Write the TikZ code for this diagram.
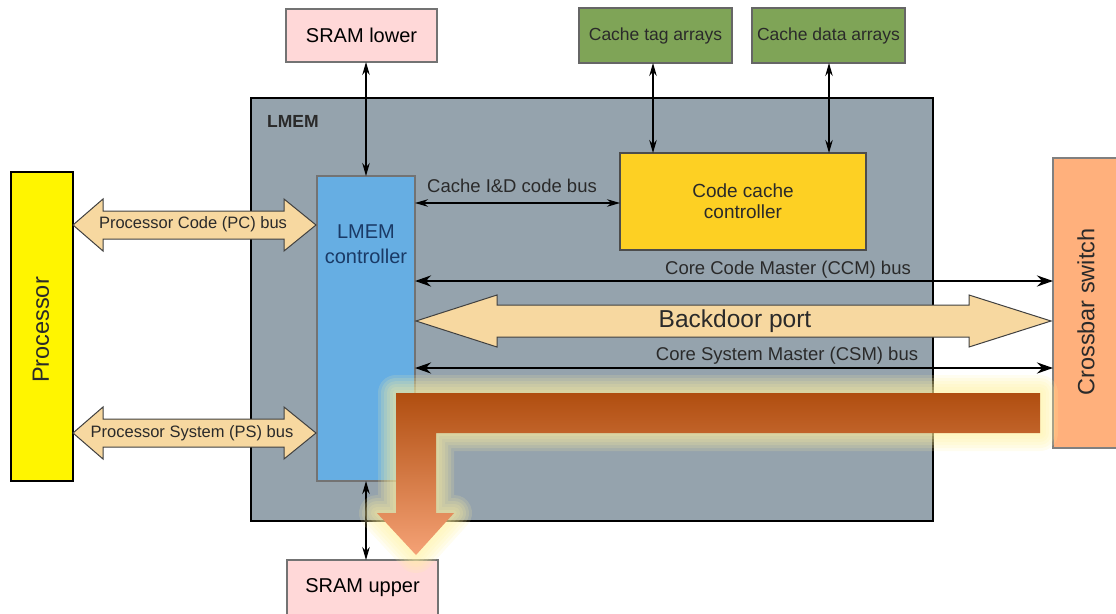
\documentclass[tikz,border=0pt]{standalone}
\usepackage{fontspec}
\setmainfont{Liberation Sans}
\usetikzlibrary{arrows.meta,calc}
\definecolor{procY}{HTML}{FFF500}
\definecolor{lmemG}{HTML}{95A3AD}
\definecolor{ctrlB}{HTML}{66AEE3}
\definecolor{cccY}{HTML}{FDD023}
\definecolor{arrG}{HTML}{7FA457}
\definecolor{sramP}{HTML}{FFD8D8}
\definecolor{xbarO}{HTML}{FFB07C}
\definecolor{busT}{HTML}{F7D8A0}
\definecolor{txtD}{HTML}{2A2A2A}
\definecolor{txtB}{HTML}{1A3A66}
\definecolor{orTop}{HTML}{B04E10}
\definecolor{orMid}{HTML}{DE7833}
\definecolor{orBot}{HTML}{F5A276}
\definecolor{glowY}{HTML}{FFF2A0}
\begin{document}
\begin{tikzpicture}[x=1pt,y=-1pt,
  blk/.style={draw=#1, line width=1.1pt, inner sep=0pt, outer sep=0pt},
  fs16/.style={font=\fontsize{16.5}{19}\selectfont},
  fs17/.style={font=\fontsize{17.5}{21}\selectfont},
  fs18/.style={font=\fontsize{18.5}{22}\selectfont},
  fs20/.style={font=\fontsize{20}{24}\selectfont},
  fs23/.style={font=\fontsize{23.5}{27}\selectfont},
  thinarr/.style={line width=1.1pt, {Stealth[length=13pt,width=7.5pt]}-{Stealth[length=13pt,width=7.5pt]}},
  thickarr/.style={line width=2.6pt, {Stealth[length=16pt,width=11pt]}-{Stealth[length=16pt,width=11pt]}},
  busarr/.style={draw=black!75, line width=1pt, fill=busT, line join=miter},
  lbl/.style={inner sep=0pt, text=txtD},
  glowline/.style={glowY, opacity=0.16, line join=round, line width=#1}
]
\useasboundingbox (0,0) rectangle (1116,613);

% LMEM container
\node[blk=black, line width=2.5pt, fill=lmemG, minimum width=682, minimum height=423] (lmem) at (592,309.5) {};
\node[lbl, anchor=west, font=\fontsize{17.5}{20}\selectfont\bfseries] (lmemlbl) at (267,121) {LMEM};

% Processor
\node[blk=black, fill=procY, minimum width=62, minimum height=309] (proc) at (42,326.5) {};
\node[lbl, fs23, rotate=90] (proctxt) at (41,330) {Processor};

% SRAM boxes
\node[blk=black!55, fill=sramP, minimum width=151, minimum height=53, fs20] (sramlo) at (361.5,35.5) {SRAM lower};
\node[blk=black!55, fill=sramP, minimum width=151, minimum height=56, fs20] (sramup) at (362.5,588) {\raisebox{2pt}{SRAM upper}};

% Cache arrays
\node[blk=black!60, fill=arrG, minimum width=153, minimum height=55, fs17, text=txtD] (tag) at (655.5,35.5) {Cache tag arrays};
\node[blk=black!60, fill=arrG, minimum width=153, minimum height=55, fs17, text=txtD] (data) at (828.5,35.5) {Cache data arrays};

% LMEM controller
\node[blk=black!55, fill=ctrlB, minimum width=98, minimum height=305] (lmc) at (366,328.5) {};
\node[lbl, font=\fontsize{20}{25}\selectfont, text=txtB, align=center] (lmctxt) at (366,244) {LMEM\\controller};

% Code cache controller
\node[blk=black!70, fill=cccY, minimum width=246, minimum height=97, font=\fontsize{19}{21}\selectfont, align=center, text=txtD] (ccc) at (743,201.5) {Code cache\\controller};

% Crossbar switch
\node[blk=black!50, fill=xbarO, minimum width=66, minimum height=290] (xbar) at (1086,303) {};
\node[lbl, fs23, rotate=90] (xbartxt) at (1086,312) {Crossbar switch};

% thin connectors
\draw[thinarr] (sramlo.south -| lmc.north) -- (lmc.north);
\draw[thinarr] (tag.south -| 653,0) -- (653,0 |- ccc.north);
\draw[thinarr] (data.south -| 829,0) -- (829,0 |- ccc.north);
\draw[thinarr] (lmc.east |- 0,203) -- (ccc.west |- 0,203);
\node[lbl, fs18] (cidlbl) at (512,186) {Cache I\&D code bus};
\draw[thinarr] (lmc.south) -- (sramup.north -| lmc.south);

% thick buses
\draw[thickarr] (lmc.east |- 0,281) -- (xbar.west |- 0,281);
\node[lbl, fs18] (ccmlbl) at (788,270) {Core Code Master (CCM) bus};
\draw[thickarr] (lmc.east |- 0,368) -- (xbar.west |- 0,368);
\node[lbl, fs18] (csmlbl) at (787,356) {Core System Master (CSM) bus};

% Backdoor port
\draw[busarr] (416,321) -- (497,295) -- (497,305) -- (969,305) -- (969,295) -- (1051,321)
  -- (969,347) -- (969,337) -- (497,337) -- (497,347) -- cycle;
\node[lbl, font=\fontsize{24.5}{28}\selectfont] (bdlbl) at (735,321) {Backdoor port};

% Processor buses
\draw[busarr] (73,225) -- (103,199) -- (103,211) -- (284,211) -- (284,199) -- (316,225)
  -- (284,251) -- (284,239) -- (103,239) -- (103,251) -- cycle;
\node[lbl, fs16] (pclbl) at (193,224) {Processor Code (PC) bus};
\draw[busarr] (73,433) -- (103,407) -- (103,419) -- (284,419) -- (284,407) -- (316,433)
  -- (284,459) -- (284,447) -- (103,447) -- (103,459) -- cycle;
\node[lbl, fs16] (pslbl) at (192,433) {Processor System (PS) bus};

% Orange flow arrow with soft glow
\def\orpath{(396,393) -- (1040,393) -- (1040,433) -- (436,433) -- (436,513) -- (454,513) -- (416,555) -- (377,513) -- (396,513) -- cycle}
\draw[glowline=36pt] \orpath;
\draw[glowline=30pt] \orpath;
\draw[glowline=24pt] \orpath;
\draw[glowline=18pt] \orpath;
\draw[glowline=12pt] \orpath;
\draw[glowline=6pt] \orpath;
\shade[top color=orTop, middle color=orMid, bottom color=orBot] \orpath;
\end{tikzpicture}
\end{document}
